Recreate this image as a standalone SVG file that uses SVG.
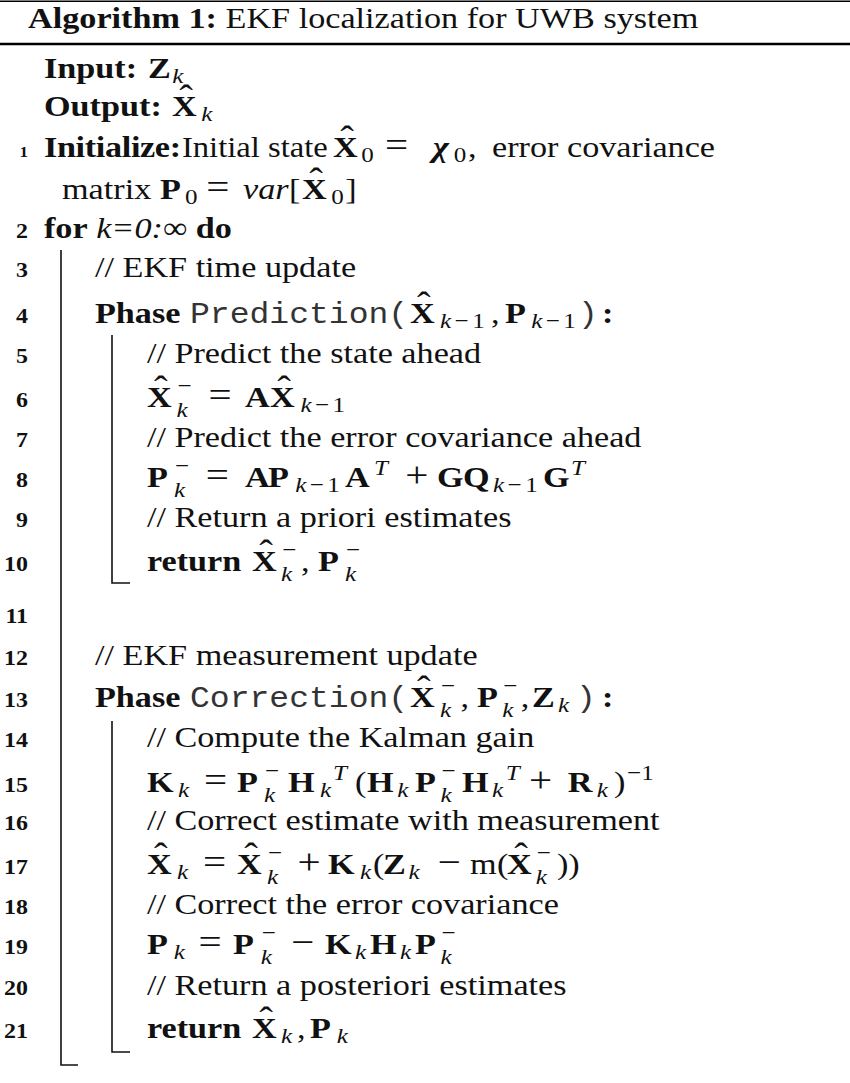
<svg xmlns="http://www.w3.org/2000/svg" width="850" height="1083" viewBox="0 0 850 1083">
  <style>
    text { font-family: "Liberation Serif", "Times New Roman", serif; font-size: 30px; fill: #111; }
    .b { font-weight: bold; }
    .i { font-style: italic; }
    .bi { font-weight: bold; font-style: italic; }
    .s { font-size: 22px; }
    .h { font-size: 36px; }
    .op { font-size: 36px; }
    .m { font-family: "Liberation Mono", "Courier New", monospace; font-size: 29px; fill: #333; }
    .num { font-weight: bold; font-size: 21px; text-anchor: end; }
    .rule { stroke: #000; fill: none; }
    .bar { stroke: #111; stroke-width: 1.6; fill: none; }
  </style>

  <!-- caption rules -->
  <g id="frame">
    <line class="rule" x1="0" y1="1.2" x2="850" y2="1.2" stroke-width="1.6"/>
    <line class="rule" x1="0" y1="44" x2="850" y2="44" stroke-width="2.6"/>
  </g>

  <!-- block bars of the for loop and of the two phases -->
  <g id="blocks">
    <path class="bar" d="M61,250 V1065 H78"/>
    <path class="bar" d="M112,335 V583 H130"/>
    <path class="bar" d="M112,721 V1052 H130"/>
  </g>

  <!-- all text is set with a slight horizontal stretch; bold math letters get
       the wider widths of the math font through textLength -->
  <g id="text" transform="scale(1.14,1)">
    <g id="title">
      <text x="24.6" y="28"><tspan class="b">Algorithm 1:</tspan> EKF localization for UWB system</text>
    </g>

    <g id="line-numbers">
      <text class="num" x="24.6" y="157" style="font-size:15px">1</text>
      <text class="num" x="24.6" y="238">2</text>
      <text class="num" x="24.6" y="277">3</text>
      <text class="num" x="24.6" y="323">4</text>
      <text class="num" x="24.6" y="363">5</text>
      <text class="num" x="24.6" y="407">6</text>
      <text class="num" x="24.6" y="447">7</text>
      <text class="num" x="24.6" y="487">8</text>
      <text class="num" x="24.6" y="527">9</text>
      <text class="num" x="24.6" y="571">10</text>
      <text class="num" x="24.6" y="623">11</text>
      <text class="num" x="24.6" y="665">12</text>
      <text class="num" x="24.6" y="707">13</text>
      <text class="num" x="24.6" y="747">14</text>
      <text class="num" x="24.6" y="792">15</text>
      <text class="num" x="24.6" y="830">16</text>
      <text class="num" x="24.6" y="874">17</text>
      <text class="num" x="24.6" y="914">18</text>
      <text class="num" x="24.6" y="954">19</text>
      <text class="num" x="24.6" y="995">20</text>
      <text class="num" x="24.6" y="1038">21</text>
    </g>

    <g id="io">
      <text y="78"><tspan class="b" x="38.6">Input:</tspan><tspan class="b" x="129.8" textLength="20.5">Z</tspan><tspan class="s i" x="151" y="83">k</tspan></text>
      <text y="116"><tspan class="b" x="38.6">Output:</tspan><tspan class="b" x="150.9" textLength="24.6">X</tspan><tspan class="h" x="157.2" y="110">ˆ</tspan><tspan class="s i" x="176.5" y="121">k</tspan></text>
    </g>

    <g id="init">
      <text y="157"><tspan class="b" x="38.6" letter-spacing="-0.3">Initialize:</tspan><tspan x="159.6" textLength="128" lengthAdjust="spacingAndGlyphs">Initial state</tspan><tspan class="b" x="292.1" textLength="24.6">X</tspan><tspan class="h" x="298.4" y="151">ˆ</tspan><tspan class="s" x="317" y="162">0</tspan><tspan class="op" x="337.7" y="157">=</tspan><tspan class="bi" x="379.8">χ</tspan><tspan class="s" x="398" y="162">0</tspan><tspan x="410.5" y="157">,</tspan><tspan x="431.6">error covariance</tspan></text>
      <text y="199"><tspan x="54.4">matrix</tspan><tspan class="b" x="140.4" textLength="22">P</tspan><tspan class="s" x="162.4" y="204">0</tspan><tspan class="op" x="181" y="199">=</tspan><tspan class="i" x="213.2">var</tspan><tspan x="253.5">[</tspan><tspan class="b" x="264.9" textLength="24.6">X</tspan><tspan class="h" x="271.2" y="193">ˆ</tspan><tspan class="s" x="290.5" y="204">0</tspan><tspan x="302.8" y="199">]</tspan></text>
    </g>

    <g id="loop">
      <text y="238"><tspan class="b" x="38.6">for</tspan> <tspan class="i">k=0:</tspan>∞ <tspan class="b">do</tspan></text>
      <text x="83.3" y="277">// EKF time update</text>
    </g>

    <g id="phase-prediction">
      <text y="323"><tspan class="b" x="83.3">Phase</tspan><tspan class="m" x="166.7">Prediction(</tspan><tspan class="b" x="359.6" textLength="24.6">X</tspan><tspan class="h" x="365.9" y="317">ˆ</tspan><tspan class="s i" x="386" y="328">k</tspan><tspan class="s" dx="3">−</tspan><tspan class="s" dx="3">1</tspan><tspan x="430.6" y="323">,</tspan><tspan class="b" x="443" textLength="22">P</tspan><tspan class="s i" x="466" y="328">k</tspan><tspan class="s" dx="3">−</tspan><tspan class="s" dx="3">1</tspan><tspan class="m" x="507.1" y="323">)</tspan><tspan class="b" x="528">:</tspan></text>
      <text x="128.9" y="363">// Predict the state ahead</text>
      <text y="407"><tspan class="b" x="128.9" textLength="24.6">X</tspan><tspan class="h" x="135.2" y="401">ˆ</tspan><tspan class="s i" x="154.8" y="417">k</tspan><tspan class="s" x="155.7" y="393">−</tspan><tspan class="op" x="182.8" y="407">=</tspan><tspan class="b" x="214.9">A</tspan><tspan class="b" x="236.8" textLength="24.6">X</tspan><tspan class="h" x="243.1" y="401">ˆ</tspan><tspan class="s i" x="263.5" y="412">k</tspan><tspan class="s" dx="3">−</tspan><tspan class="s" dx="3">1</tspan></text>
      <text x="128.9" y="447">// Predict the error covariance ahead</text>
      <text y="487"><tspan class="b" x="128.9" textLength="22">P</tspan><tspan class="s i" x="152.6" y="497">k</tspan><tspan class="s" x="153.5" y="473">−</tspan><tspan class="op" x="180.6" y="487">=</tspan><tspan class="b" x="214.9">A</tspan><tspan class="b" x="235.1" textLength="22">P</tspan><tspan class="s i" x="259" y="492">k</tspan><tspan class="s" dx="3">−</tspan><tspan class="s" dx="3">1</tspan><tspan class="b" x="302.6" y="487">A</tspan><tspan class="s i" x="328" y="475">T</tspan><tspan class="op" x="355.6" y="487">+</tspan><tspan class="b" x="383.3">G</tspan><tspan class="b" x="406.1" textLength="25.4">Q</tspan><tspan class="s i" x="432.5" y="492">k</tspan><tspan class="s" dx="3">−</tspan><tspan class="s" dx="3">1</tspan><tspan class="b" x="476.3" y="487">G</tspan><tspan class="s i" x="500.8" y="475">T</tspan></text>
      <text x="128.9" y="527">// Return a priori estimates</text>
      <text y="571"><tspan class="b" x="128.9">return</tspan><tspan class="b" x="221.1" textLength="24.6">X</tspan><tspan class="h" x="227.4" y="565">ˆ</tspan><tspan class="s i" x="246.6" y="581">k</tspan><tspan class="s" x="247.5" y="557">−</tspan><tspan x="264" y="571">,</tspan><tspan class="b" x="278.9" textLength="22">P</tspan><tspan class="s i" x="302.6" y="581">k</tspan><tspan class="s" x="303.5" y="557">−</tspan></text>
    </g>

    <g id="phase-correction">
      <text x="83.3" y="665">// EKF measurement update</text>
      <text y="707"><tspan class="b" x="83.3">Phase</tspan><tspan class="m" x="166.7">Correction(</tspan><tspan class="b" x="359.6" textLength="24.6">X</tspan><tspan class="h" x="365.9" y="701">ˆ</tspan><tspan class="s i" x="386" y="717">k</tspan><tspan class="s" x="386.8" y="693">−</tspan><tspan x="404" y="707">,</tspan><tspan class="b" x="418.4" textLength="22">P</tspan><tspan class="s i" x="440.6" y="717">k</tspan><tspan class="s" x="441.4" y="693">−</tspan><tspan x="456.9" y="707">,</tspan><tspan class="b" x="466.7" textLength="20.5">Z</tspan><tspan class="s i" x="489.5" y="712">k</tspan><tspan class="m" x="505.3" y="707">)</tspan><tspan class="b" x="528">:</tspan></text>
      <text x="128.9" y="747">// Compute the Kalman gain</text>
      <text y="792"><tspan class="b" x="128.9" textLength="26.3">K</tspan><tspan class="s i" x="156.1" y="797">k</tspan><tspan class="op" x="178.9" y="792">=</tspan><tspan class="b" x="207.9" textLength="22">P</tspan><tspan class="s i" x="231.6" y="802">k</tspan><tspan class="s" x="232.5" y="778">−</tspan><tspan class="b" x="252.6" y="792" textLength="26.3">H</tspan><tspan class="s i" x="280.7" y="797">k</tspan><tspan class="s i" x="292.1" y="780">T</tspan><tspan x="311.4" y="792">(</tspan><tspan class="b" x="321.9" textLength="26.3">H</tspan><tspan class="s i" x="348.4" y="797">k</tspan><tspan class="b" x="364" y="792" textLength="22">P</tspan><tspan class="s i" x="386.4" y="802">k</tspan><tspan class="s" x="387.2" y="778">−</tspan><tspan class="b" x="405.3" y="792" textLength="26.3">H</tspan><tspan class="s i" x="431.6" y="797">k</tspan><tspan class="s i" x="443.6" y="780">T</tspan><tspan class="op" x="464" y="792">+</tspan><tspan class="b" x="498" textLength="24.6">R</tspan><tspan class="s i" x="523.5" y="797">k</tspan><tspan x="538.5" y="792">)</tspan><tspan class="s" x="550" y="780">−1</tspan></text>
      <text x="128.9" y="830">// Correct estimate with measurement</text>
      <text y="874"><tspan class="b" x="128.9" textLength="24.6">X</tspan><tspan class="h" x="135.2" y="868">ˆ</tspan><tspan class="s i" x="155.3" y="879">k</tspan><tspan class="op" x="178" y="874">=</tspan><tspan class="b" x="207.9" textLength="24.6">X</tspan><tspan class="h" x="214.2" y="868">ˆ</tspan><tspan class="s i" x="234.2" y="884">k</tspan><tspan class="s" x="235" y="860">−</tspan><tspan class="op" x="260.9" y="874">+</tspan><tspan class="b" x="287.7" textLength="26.3">K</tspan><tspan class="s i" x="315.8" y="879">k</tspan><tspan x="327.2" y="874">(</tspan><tspan class="b" x="336" textLength="20.5">Z</tspan><tspan class="s i" x="358.3" y="879">k</tspan><tspan class="op" x="383.7" y="874">−</tspan><tspan x="412.3">m</tspan><tspan x="436">(</tspan><tspan class="b" x="444.7" textLength="24.6">X</tspan><tspan class="h" x="451" y="868">ˆ</tspan><tspan class="s i" x="470" y="884">k</tspan><tspan class="s" x="470.8" y="860">−</tspan><tspan x="488.6" y="874">))</tspan></text>
      <text x="128.9" y="914">// Correct the error covariance</text>
      <text y="954"><tspan class="b" x="128.9" textLength="22">P</tspan><tspan class="s i" x="152.5" y="959">k</tspan><tspan class="op" x="174.1" y="954">=</tspan><tspan class="b" x="204.4" textLength="22">P</tspan><tspan class="s i" x="228.8" y="964">k</tspan><tspan class="s" x="229.6" y="940">−</tspan><tspan class="op" x="255.2" y="954">−</tspan><tspan class="b" x="285.1" textLength="26.3">K</tspan><tspan class="s i" x="311.4" y="959">k</tspan><tspan class="b" x="324.6" y="954" textLength="26.3">H</tspan><tspan class="s i" x="350.9" y="959">k</tspan><tspan class="b" x="364" y="954" textLength="22">P</tspan><tspan class="s i" x="386.4" y="964">k</tspan><tspan class="s" x="387.2" y="940">−</tspan></text>
      <text x="128.9" y="995">// Return a posteriori estimates</text>
      <text y="1038"><tspan class="b" x="128.9">return</tspan><tspan class="b" x="221.1" textLength="24.6">X</tspan><tspan class="h" x="227.4" y="1032">ˆ</tspan><tspan class="s i" x="246.6" y="1043">k</tspan><tspan x="260.5" y="1038">,</tspan><tspan class="b" x="271.9" textLength="22">P</tspan><tspan class="s i" x="295.5" y="1043">k</tspan></text>
    </g>
  </g>
</svg>
